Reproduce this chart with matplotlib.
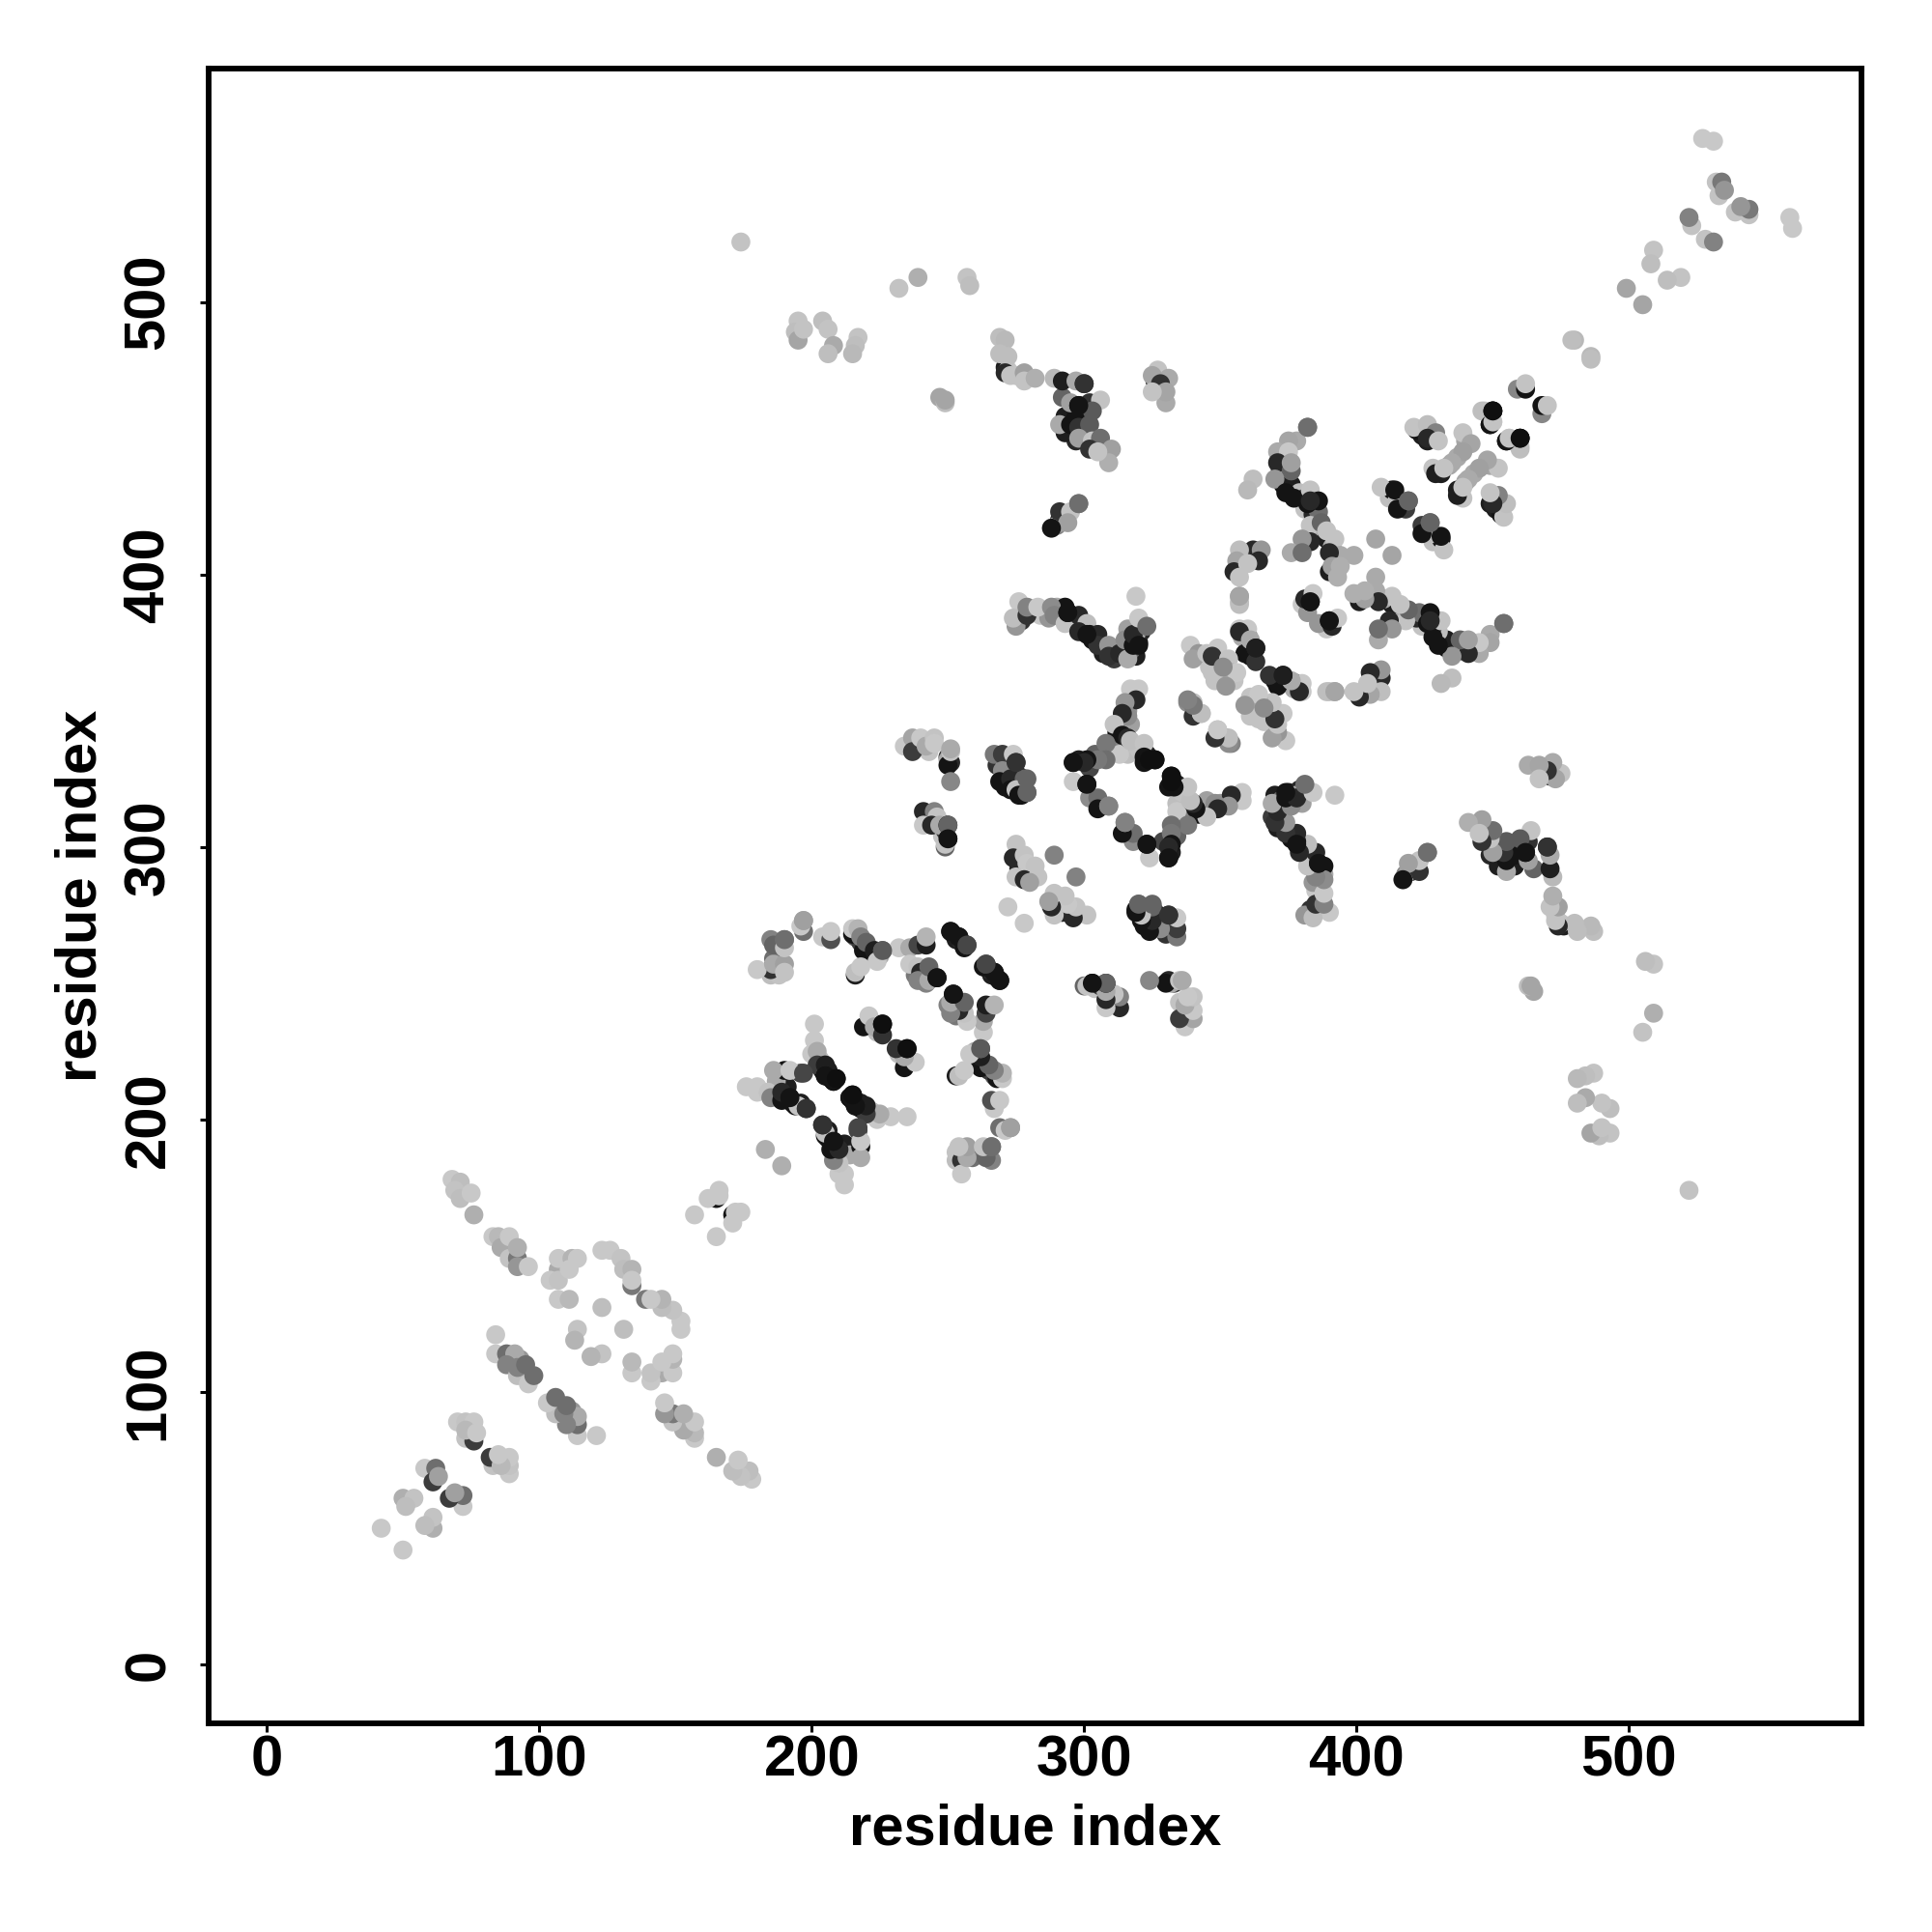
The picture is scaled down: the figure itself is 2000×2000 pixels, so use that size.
import numpy as np
import matplotlib
matplotlib.use('Agg')
from matplotlib import pyplot as plt

plt.rcParams['font.family'] = ['Liberation Sans', 'DejaVu Sans']

# contact pairs, upper triangle only (the map is symmetric)
res_i = [
    68, 71, 69, 71, 76, 75,
    83, 85, 86, 89, 89, 92, 92, 92, 96,
    107, 104, 107, 107, 112, 111, 114, 107, 111,
    134, 123, 126, 130, 131, 134, 134, 123, 114, 113,
    84, 84, 88, 91, 88, 92, 92, 96, 95, 98,
    70, 73, 76, 76, 73, 77,
    58, 62, 61, 63, 50, 54, 51, 42,
    157, 165, 162, 166, 166, 183,
    185, 180, 186, 190, 190, 185, 186, 190, 190, 197, 196, 197,
    204, 207, 207,
    215, 219, 215, 217, 218, 220, 223, 226, 216, 216, 218, 224,
    232, 236, 239, 242, 242, 236, 239, 240, 239, 242, 243, 243, 246,
    251, 254, 256, 257,
    201, 201, 200, 202, 202, 205, 205, 208, 209, 196, 190, 186, 192,
    180, 176, 180, 184, 185, 189, 189, 192, 194, 195, 198,
    219, 221, 223, 226, 226,
    276, 275, 274, 279, 279, 283, 288, 289,
    293, 294, 298, 301, 298, 302, 305, 305, 309, 309, 313, 316, 315, 318, 319, 318, 320, 323, 319,
    357, 357, 381, 383, 384,
    357, 360, 357, 359, 361, 363, 363,
    339, 342, 340, 345, 349, 347, 353, 349, 354, 356, 352, 351,
    338, 340, 340, 343, 349, 352, 354,
    320, 317, 319, 315, 316, 314,
    311, 314, 316, 317, 322, 322, 324, 326,
    308, 308, 305, 301, 296, 300, 296, 301, 302, 305, 305, 309,
    267, 270, 274, 275, 270, 269, 273, 278, 273, 279, 275, 276,
    275, 274, 278, 289, 279, 282, 275, 278, 283, 280, 272,
    234, 237, 237, 240, 242, 245, 245, 250, 251, 250, 251, 251,
    241, 245, 246, 241, 244, 247, 249, 250, 249, 250,
    382, 378, 375, 371, 375, 371, 376, 376, 362, 360, 370, 374, 377, 383, 386, 386, 382, 383, 387, 389,
    392, 383, 380, 376, 380, 394, 399, 390, 391, 394, 393,
    407, 413, 409, 419, 415, 415,
    422, 421, 426, 429, 426, 430,
    439, 442, 439, 435, 428, 429, 432,
    450, 447, 449, 450,
    362, 365, 364, 357, 356, 355, 357, 360, 357,
    527, 531, 533, 532, 534, 535,
    523, 522, 509, 508, 499, 480, 479,
    459, 462, 462, 446, 450, 449, 450,
    174, 232, 239, 257, 258,
    195, 194, 195, 197, 204, 206, 208, 206, 217, 216, 215,
    247, 249, 249,
    269, 271, 269, 272, 271, 273, 278, 278, 282,
    289, 292, 297, 300, 295, 298, 302, 306, 303, 291, 295, 298, 302, 298, 303, 306, 302, 310, 309, 305,
    327, 325, 331, 328, 330, 330, 325,
    291, 291, 295, 294, 288, 288, 298,
]
res_j = [
    178, 177, 174, 171, 165, 173,
    157, 157, 153, 157, 149, 149, 146, 153, 146,
    145, 141, 141, 149, 149, 145, 149, 134, 134,
    139, 152, 152, 149, 145, 145, 141, 131, 123, 119,
    121, 114, 114, 114, 110, 106, 109, 103, 110, 106,
    89, 89, 89, 82, 86, 85,
    72, 72, 67, 69, 61, 61, 58, 50,
    165, 171, 171, 172, 174, 189,
    255, 255, 257, 257, 254, 266, 264, 266, 263, 269, 271, 273,
    267, 266, 269,
    268, 262, 270, 270, 267, 265, 262, 262, 253, 254, 256, 258,
    263, 263, 264, 264, 267, 257, 256, 254, 251, 250, 251, 256, 252,
    269, 267, 263, 264,
    235, 229, 224, 225, 220, 220, 216, 214, 215, 217, 218, 218, 218,
    212, 212, 210, 210, 208, 207, 210, 208, 205, 205, 204,
    234, 238, 234, 231, 235,
    390, 381, 384, 385, 388, 388, 388, 385,
    382, 386, 385, 382, 379, 378, 378, 374, 374, 370, 371, 369, 376, 374, 378, 378, 384, 381, 392,
    392, 390, 391, 390, 393,
    380, 380, 379, 371, 376, 373, 368,
    374, 371, 369, 371, 373, 370, 369, 363, 364, 364, 359, 366,
    353, 353, 348, 349, 343, 340, 338,
    358, 358, 354, 353, 348, 349,
    345, 341, 340, 339, 338, 333, 332, 332,
    338, 332, 332, 332, 331, 331, 324, 323, 318, 318, 314, 315,
    334, 334, 334, 331, 328, 324, 325, 325, 321, 320, 321, 319,
    301, 296, 297, 297, 294, 293, 289, 288, 289, 287, 278,
    337, 340, 335, 340, 337, 340, 338, 332, 331, 330, 335, 324,
    313, 313, 311, 308, 308, 308, 300, 303, 301, 308,
    454, 449, 449, 445, 445, 441, 438, 441, 435, 431, 435, 430, 428, 431, 423, 427, 426, 418, 419, 416,
    413, 412, 413, 408, 408, 407, 407, 408, 403, 403, 399,
    413, 431, 432, 427, 428, 424,
    453, 454, 455, 452, 450, 449,
    452, 448, 445, 441, 439, 437, 439,
    460, 460, 455, 456,
    409, 409, 405, 409, 405, 401, 399, 404, 392,
    560, 559, 539, 544, 544, 541,
    528, 531, 519, 514, 505, 486, 486,
    468, 468, 470, 460, 460, 455, 456,
    522, 505, 509, 509, 506,
    493, 489, 486, 490, 493, 490, 484, 481, 487, 484, 481,
    465, 463, 464,
    487, 486, 481, 480, 474, 473, 474, 471, 472,
    472, 471, 471, 470, 463, 462, 463, 464, 460, 455, 455, 454, 455, 450, 449, 450, 446, 446, 441, 445,
    475, 473, 472, 470, 463, 467, 467,
    419, 423, 423, 419, 417, 417, 426,
]
grey = [
    200, 190, 195, 190, 175, 200,
    200, 185, 170, 200, 195, 120, 150, 175, 200,
    170, 200, 195, 200, 180, 200, 200, 200, 185,
    120, 200, 200, 195, 190, 180, 200, 190, 195, 180,
    200, 200, 110, 170, 130, 190, 130, 200, 110, 110,
    200, 195, 200, 60, 185, 200,
    200, 110, 60, 160, 175, 195, 190, 200,
    200, 20, 200, 200, 200, 175,
    50, 200, 170, 160, 195, 130, 100, 110, 195, 110, 200, 160,
    200, 80, 200,
    20, 20, 200, 180, 130, 100, 30, 90, 30, 190, 200, 200,
    200, 170, 70, 30, 180, 200, 195, 40, 130, 130, 170, 100, 20,
    20, 20, 20, 70,
    200, 200, 200, 170, 60, 30, 20, 20, 15, 70, 20, 170, 200,
    200, 200, 200, 195, 130, 20, 40, 20, 20, 195, 50,
    20, 200, 170, 50, 15,
    200, 150, 190, 50, 130, 200, 140, 130,
    195, 20, 40, 190, 40, 20, 40, 50, 150, 50, 40, 170, 140, 20, 170, 40, 200, 110, 200,
    160, 190, 40, 20, 200,
    200, 200, 40, 20, 170, 30, 50,
    200, 150, 160, 195, 200, 50, 195, 195, 170, 200, 150, 140,
    140, 190, 50, 200, 190, 120, 130,
    200, 200, 40, 150, 140, 40,
    195, 20, 40, 190, 195, 20, 15, 15,
    120, 110, 120, 20, 20, 40, 200, 20, 140, 110, 20, 130,
    120, 60, 200, 50, 140, 20, 40, 100, 20, 100, 195, 20,
    195, 40, 195, 130, 200, 195, 195, 40, 195, 160, 200,
    200, 165, 60, 200, 170, 195, 200, 170, 40, 20, 195, 135,
    40, 130, 195, 200, 40, 170, 100, 15, 195, 15,
    110, 170, 165, 170, 200, 40, 100, 160, 190, 185, 150, 20, 20, 195, 110, 20, 20, 195, 100, 195,
    195, 40, 150, 170, 110, 170, 170, 40, 160, 175, 175,
    165, 20, 195, 100, 190, 20,
    20, 195, 190, 130, 40, 195,
    195, 165, 160, 170, 195, 30, 195,
    15, 200, 15, 200,
    40, 150, 40, 190, 165, 40, 195, 195, 165,
    200, 200, 195, 195, 120, 150,
    195, 130, 195, 190, 165, 185, 190,
    135, 20, 195, 190, 15, 20, 195,
    195, 195, 175, 195, 190,
    195, 190, 165, 195, 190, 195, 170, 190, 195, 190, 185,
    165, 190, 165,
    190, 185, 190, 190, 40, 195, 160, 195, 175,
    185, 30, 170, 50, 160, 20, 50, 195, 90, 170, 20, 50, 90, 160, 195, 110, 50, 160, 175, 195,
    195, 165, 170, 50, 170, 165, 195,
    160, 50, 195, 160, 195, 20, 120,
]

# half hidden discs inside the crowded clusters, drawn first
hidden_i = [
    216, 218, 221, 225, 222, 187, 186, 185, 188, 252, 253, 255, 241, 244, 238,
    204, 206, 207, 203, 190, 188, 191, 193, 196, 187, 222, 224, 225,
    277, 284, 287, 290, 293, 296, 299, 303, 307, 311, 315, 316, 318, 320, 319, 321, 317,
    316, 317, 312, 315, 316, 311, 309, 304, 298, 322, 323, 313, 320, 302,
    268, 271, 276, 272, 271, 274, 277,
    358, 360, 361, 346, 350, 349, 352, 355, 348, 347, 357, 380, 382, 277, 279, 281, 276,
    372, 374, 373, 376, 379, 381, 384, 385, 389, 391, 392, 390, 381, 363, 361,
    412, 418, 424, 426, 440, 437, 434, 431,
    292, 296, 293, 297, 300, 299, 297, 304, 305, 293, 300,
    326, 329, 271, 275, 272, 291, 290, 293,
    92, 90, 93, 73, 89, 90, 243, 239, 250, 247, 248, 249,
]
hidden_j = [
    267, 265, 263, 260, 261, 262, 259, 253, 253, 268, 266, 265, 253, 252, 253,
    218, 218, 215, 222, 214, 212, 212, 206, 206, 214, 236, 232, 233,
    383, 385, 384, 388, 388, 384, 381, 376, 371, 369, 372, 380, 377, 375, 370, 379, 372,
    350, 345, 342, 337, 334, 337, 335, 334, 332, 331, 334, 334, 336, 329,
    330, 331, 326, 327, 322, 324, 319,
    377, 378, 370, 366, 368, 366, 364, 361, 361, 364, 389, 389, 386, 291, 290, 290, 292,
    438, 436, 433, 433, 430, 424, 422, 415, 413, 410, 405, 401, 428, 406, 406,
    428, 424, 451, 449, 449, 443, 440, 437,
    465, 462, 458, 458, 461, 456, 449, 447, 449, 452, 452,
    471, 469, 476, 473, 475, 420, 418, 421,
    110, 111, 112, 83, 154, 150, 335, 337, 333, 309, 304, 306,
]
hidden_grey = [
    90, 60, 60, 170, 40, 170, 110, 190, 195, 60, 30, 40, 150, 60, 120,
    20, 30, 15, 190, 170, 20, 30, 15, 30, 170, 190, 190, 20,
    50, 200, 150, 170, 20, 20, 40, 20, 30, 60, 130, 160, 50, 30, 30, 40, 100,
    150, 160, 20, 190, 190, 130, 120, 100, 30, 20, 30, 200, 195, 70,
    50, 190, 20, 160, 20, 170, 20,
    170, 40, 20, 195, 170, 40, 170, 195, 195, 195, 190, 200, 150, 190, 50, 200, 40,
    40, 150, 20, 30, 190, 195, 40, 170, 30, 170, 180, 30, 30, 175, 30,
    190, 60, 30, 30, 165, 170, 165, 30,
    100, 30, 30, 20, 100, 20, 40, 30, 195, 30, 100,
    20, 165, 30, 195, 195, 20, 130, 150,
    195, 110, 150, 195, 170, 200, 195, 110, 60, 30, 195, 60,
]

# the discs that lie on top of everything else
top_i = [205, 208, 209, 192, 198, 226, 246, 251, 254, 257, 301, 324, 326, 296, 294,
         320, 301, 450, 383, 363, 383, 414, 419, 300, 298, 275, 279, 279, 250, 250,
         309, 298, 382, 197, 190, 226, 197, 251]
top_j = [216, 214, 215, 208, 204, 235, 252, 269, 267, 264, 323, 332, 332, 331, 386,
         374, 378, 460, 390, 373, 427, 431, 427, 470, 462, 331, 325, 320, 308, 303,
         315, 426, 454, 217, 266, 262, 273, 336]
top_grey = [20, 20, 15, 20, 50, 15, 20, 20, 20, 70, 20, 15, 15, 20, 20,
            20, 20, 15, 20, 30, 40, 20, 100, 50, 20, 50, 100, 100, 100, 20,
            130, 110, 110, 70, 110, 90, 160, 170]

tick_vals = [0, 100, 200, 300, 400, 500]
axis_label = 'residue index'

all_i = np.array(hidden_i + res_i)
all_j = np.array(hidden_j + res_j)
shades = [str(g / 255) for g in hidden_grey + grey]
top_shades = [str(g / 255) for g in top_grey]

fig = plt.figure(figsize=(10, 10), dpi=200)
ax = fig.add_axes([0.1082, 0.108, 0.8553, 0.8563])

# both halves of the map
ax.scatter(np.concatenate([all_i, all_j]), np.concatenate([all_j, all_i]),
           c=shades + shades, s=50, linewidths=0)
ax.scatter(top_i + top_j, top_j + top_i, c=top_shades + top_shades, s=50, linewidths=0)

ax.set_xlim(-21.2, 585.3)
ax.set_ylim(-21.6, 585.5)
ax.set_xticks(tick_vals)
ax.set_yticks(tick_vals)
ax.tick_params(axis='both', length=3.1, width=1.1, labelsize=21.5)
ax.tick_params(axis='x', pad=1)
ax.tick_params(axis='y', pad=9.3)
for label in ax.get_xticklabels() + ax.get_yticklabels():
    label.set_fontweight('bold')
for label in ax.get_yticklabels():
    label.set_rotation(90)
    label.set_va('center')
for spine in ax.spines.values():
    spine.set_linewidth(2.1)

ax.set_xlabel(axis_label, fontsize=21.5, fontweight='bold', labelpad=5.8)
ax.set_ylabel(axis_label, fontsize=21.5, fontweight='bold', labelpad=5.7)

plt.savefig('out.png', dpi=200)
plt.close()
